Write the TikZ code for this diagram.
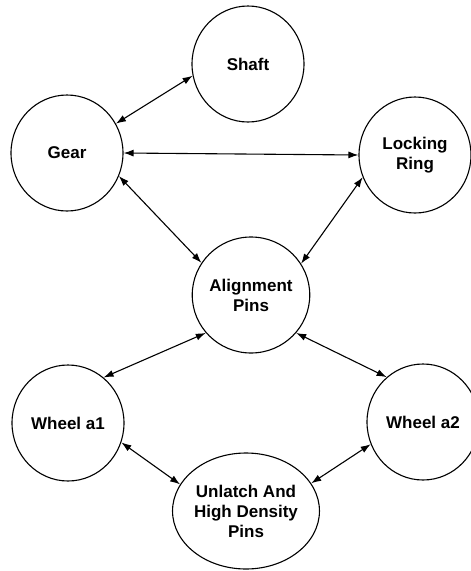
\documentclass[tikz,border=0pt]{standalone}
\usepackage{fontspec}
\setmainfont{Liberation Sans}
\usetikzlibrary{shapes.geometric,arrows.meta}
\tikzset{
  part/.style={ellipse, draw, line width=1.1pt, minimum width=112pt, minimum height=116pt,
    inner sep=0pt, align=center, font=\fontsize{17}{20}\selectfont\bfseries},
  link/.style={line width=1.1pt, {Latex[length=10pt,width=7pt]}-{Latex[length=10pt,width=7pt]}}
}
\begin{document}
\begin{tikzpicture}[x=1pt,y=-1pt]
\useasboundingbox (0,0) rectangle (471,571);
\clip (0,0) rectangle (471,571);
\node[part] (shaft) at (248,64) {Shaft};
\node[part] (gear) at (67,153) {Gear};
\node[part] (lock) at (415,155) {Locking\\Ring};
\node[part] (align) at (251,295) {Alignment\\Pins};
\node[part] (wa1) at (68,423) {Wheel a1};
\node[part] (wa2) at (423,422) {Wheel a2};
\node[part] (unl) at (246,511) {Unlatch And\\High Density\\Pins};
\draw[link] (gear.31) -- (shaft.192);
\draw[link] (gear.east) -- (lock.west);
\draw[link] (gear.-24) -- (align.147);
\draw[link] (lock.203) -- (align.32);
\draw[link] (align.220) -- (wa1.52);
\draw[link] (align.-40) -- (wa2.129);
\draw[link] (wa1.-20) -- (unl.158);
\draw[link] (wa2.203) -- (unl.23);
\end{tikzpicture}
\end{document}
